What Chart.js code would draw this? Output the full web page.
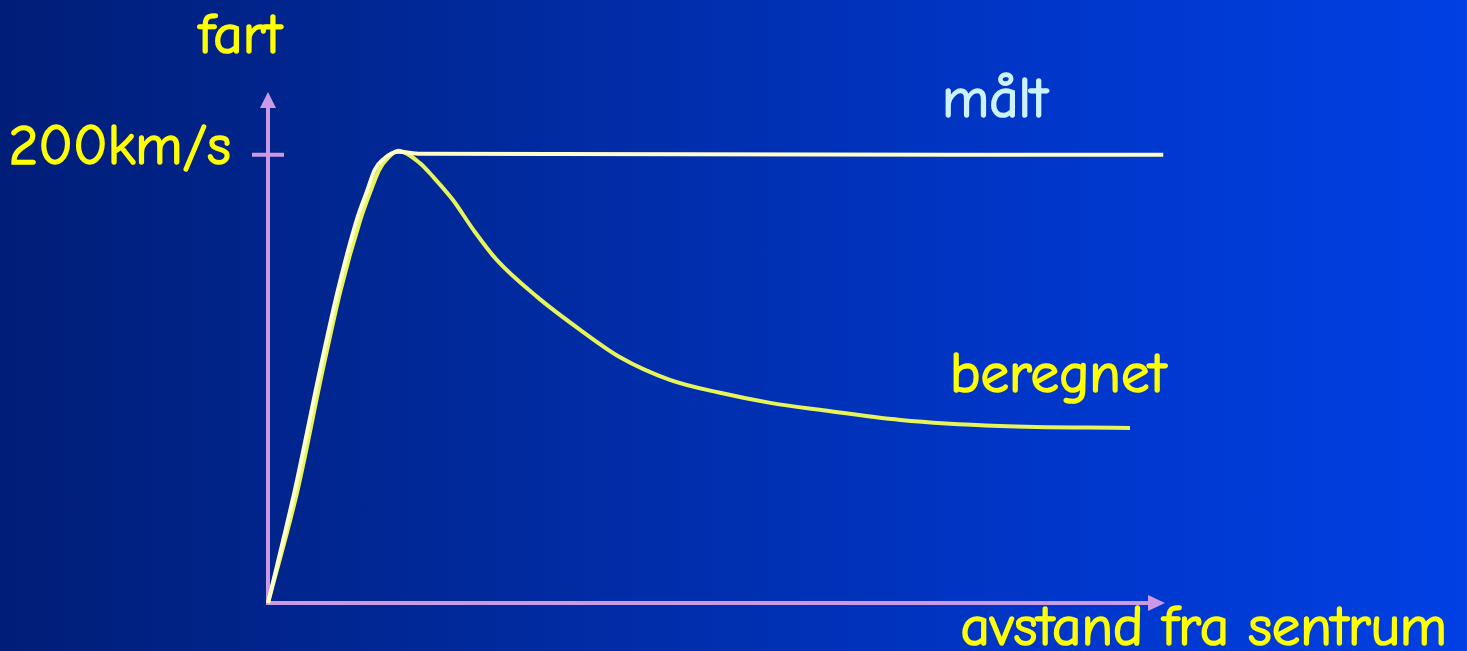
<!DOCTYPE html>
<html>
<head>
<meta charset="utf-8">
<script src="https://cdn.jsdelivr.net/npm/chart.js@4.4.1/dist/chart.umd.min.js"></script>
<style>
    html, body {
        margin: 0;
        padding: 0;
        width: 1467px;
        height: 651px;
        overflow: hidden;
        background: linear-gradient(to right, #001e78 0%, #002a9e 35%, #0036c8 70%, #0040e4 100%);
    }
    #wrap { position: relative; width: 1467px; height: 651px; }
</style>
</head>
<body>
<div id="wrap"><canvas id="rotChart"></canvas></div>
<script>
// Distance from centre (arbitrary units) and speed in km/s
const maltX = [0, 3.0, 5.8, 7.8, 9.9, 11.1, 11.9, 12.8, 14.5, 17, 99.8];
const maltY = [0, 50.4, 104, 139.7, 171, 184.4, 193.3, 197.8, 201.3, 200.4, 200];

const beregnetX = [0, 3.3, 6.1, 8.1, 10.3, 11.5, 12.4, 13.4, 14.5, 16.9, 18.4, 20.6, 22.9, 25.5, 30.0, 34.8, 39.2, 44.8, 50.4, 56.0, 61.5, 70.5, 81.6, 96.1];
const beregnetY = [0, 50.4, 104, 139.7, 171, 184.4, 193.3, 198.7, 201.8, 196.4, 190.2, 179.9, 166.5, 153.1, 136.6, 121.9, 109.8, 99.6, 93.8, 89.3, 86.2, 81.7, 79.0, 78.1];

const yTicks = [200];
const tickLabels = ['200km/s'];

const toPoints = (xs, ys) => xs.map((x, i) => ({ x: x, y: ys[i] }));

const FONT = '"Comic Sans MS", "Comic Neue", "DejaVu Sans", sans-serif';
const FONT_SIZE = 57;
const AXIS_COLOR = '#cc99e6';
const TEXT_YELLOW = '#ffff00';

// fill plus a thin stroke so the letters look a bit heavier
function drawText(ctx, text, x, y, color) {
    ctx.fillStyle = color;
    ctx.strokeStyle = color;
    ctx.lineWidth = 1.6;
    ctx.fillText(text, x, y);
    ctx.strokeText(text, x, y);
}

// Axes with arrowheads, the single tick and all the slide labels
const axesPlugin = {
    id: 'slideAxes',
    beforeDatasetsDraw(chart) {
        const { ctx, scales } = chart;
        const xs = scales.x, ys = scales.y;
        const x0 = xs.getPixelForValue(0);
        const y0 = ys.getPixelForValue(0);
        const xEnd = xs.getPixelForValue(xs.max);
        const yEnd = ys.getPixelForValue(ys.max);

        ctx.save();
        ctx.strokeStyle = AXIS_COLOR;
        ctx.fillStyle = AXIS_COLOR;
        ctx.lineWidth = 4;

        // vertical axis
        ctx.beginPath();
        ctx.moveTo(x0, y0 + 2);
        ctx.lineTo(x0, yEnd + 14);
        ctx.stroke();
        ctx.beginPath();
        ctx.moveTo(x0, yEnd);
        ctx.lineTo(x0 - 8, yEnd + 16);
        ctx.lineTo(x0 + 8, yEnd + 16);
        ctx.closePath();
        ctx.fill();

        // horizontal axis
        ctx.beginPath();
        ctx.moveTo(x0 - 2, y0);
        ctx.lineTo(xEnd - 14, y0);
        ctx.stroke();
        ctx.beginPath();
        ctx.moveTo(xEnd, y0);
        ctx.lineTo(xEnd - 17, y0 - 8);
        ctx.lineTo(xEnd - 17, y0 + 8);
        ctx.closePath();
        ctx.fill();

        ctx.font = FONT_SIZE + 'px ' + FONT;
        ctx.textBaseline = 'alphabetic';

        // tick marks across the y axis
        yTicks.forEach((v, i) => {
            const py = ys.getPixelForValue(v);
            ctx.strokeStyle = AXIS_COLOR;
            ctx.lineWidth = 4;
            ctx.beginPath();
            ctx.moveTo(x0 - 16, py);
            ctx.lineTo(x0 + 16, py);
            ctx.stroke();

            ctx.textAlign = 'right';
            drawText(ctx, tickLabels[i], x0 - 37, py + 9, TEXT_YELLOW);
        });

        // axis titles
        ctx.textAlign = 'center';
        drawText(ctx, 'fart', x0 - 28, 53, TEXT_YELLOW);
        ctx.textAlign = 'right';
        drawText(ctx, 'avstand fra sentrum', 1447, 645, TEXT_YELLOW);

        // curve labels
        ctx.textAlign = 'left';
        drawText(ctx, 'målt', 942, 117, '#ccf2ff');
        drawText(ctx, 'beregnet', 950, 392, TEXT_YELLOW);

        ctx.restore();
    }
};

const chart = new Chart(document.getElementById('rotChart'), {
    type: 'line',
    data: {
        datasets: [
            {
                label: 'målt',
                data: toPoints(maltX, maltY),
                borderColor: '#ffffcc',
                borderWidth: 4,
                pointRadius: 0,
                cubicInterpolationMode: 'monotone',
                clip: false
            },
            {
                label: 'beregnet',
                data: toPoints(beregnetX, beregnetY),
                borderColor: '#e8f55a',
                borderWidth: 4,
                pointRadius: 0,
                cubicInterpolationMode: 'monotone',
                clip: false
            }
        ]
    },
    options: {
        responsive: true,
        maintainAspectRatio: false,
        animation: false,
        layout: {
            padding: { left: 268, right: 302, top: 92, bottom: 48 }
        },
        plugins: {
            legend: { display: false },
            tooltip: { enabled: false }
        },
        scales: {
            x: { type: 'linear', min: 0, max: 100, display: false },
            y: { type: 'linear', min: 0, max: 228, display: false }
        }
    },
    plugins: [axesPlugin]
});
</script>
</body>
</html>
